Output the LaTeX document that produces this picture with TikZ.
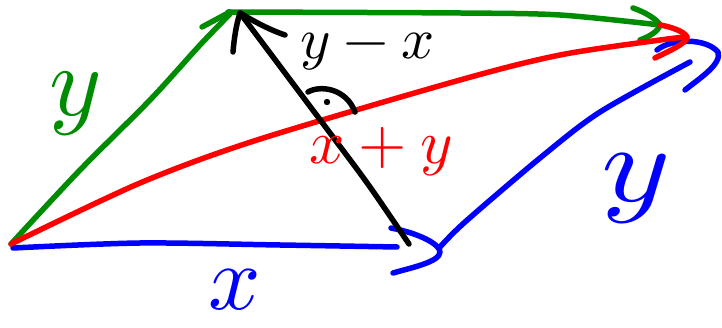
\documentclass[tikz,border=0pt]{standalone}
\usepackage{fontspec}
\usepackage{unicode-math}
\definecolor{pgreen}{RGB}{0,140,0}
\definecolor{pred}{RGB}{255,0,0}
\definecolor{pblue}{RGB}{0,0,255}
\tikzset{
  pen/.style={line width=5.5pt, line cap=round, line join=round},
  lbl/.style={inner sep=0pt, font=\fontsize{#1}{#1}\selectfont},
}
\begin{document}
\begin{tikzpicture}[x=1pt,y=-1pt]
\useasboundingbox (0,0) rectangle (722,328);
% key points
\coordinate (O) at (11,244);
\coordinate (Gtop) at (230,14);
\coordinate (Gtip) at (660,25);
\coordinate (Rtip) at (687,37);
\coordinate (Bend) at (397,247);
\coordinate (Btip) at (440,252);
\coordinate (Dstart) at (440,247);
\coordinate (Dend) at (690,62);
\coordinate (Dtip) at (718,52);
\coordinate (Kstart) at (409,244);
\coordinate (Ktip) at (240,13);
% blue x
\draw[pen, pblue] plot[smooth] coordinates {(13,248) (140,243) (280,245) (Bend)};
\draw[pen, pblue] (391,228) .. controls (418,233) and (440,244) .. (Btip) .. controls (440,262) and (410,268) .. (393,273);
% blue y (diagonal)
\draw[pen, pblue] plot[smooth] coordinates {(Dstart) (465,222) (540,158) (600,112) (Dend)};
\draw[pen, pblue] (657,50) .. controls (672,38) and (706,38) .. (Dtip) .. controls (722,64) and (700,78) .. (685,90);
% green y (left)
\draw[pen, pgreen] plot[smooth] coordinates {(O) (80,170) (150,100) (200,45) (Gtop)};
\draw[pen, pgreen] (202,27) -- (230,12);
% green top
\draw[pen, pgreen] plot[smooth] coordinates {(228,12) (460,13) (560,15) (Gtip)};
\draw[pen, pgreen] (633,8) .. controls (645,12) and (658,20) .. (Gtip) .. controls (658,32) and (648,37) .. (640,40);
% red x+y
\draw[pen, pred] plot[smooth] coordinates {(O) (140,183) (257,140) (460,80) (560,55) (660,40) (Rtip)};
\draw[pen, pred] (660,25) .. controls (672,27) and (685,32) .. (Rtip) .. controls (688,43) and (665,53) .. (655,58);
% black y-x
\draw[pen, black] plot[smooth] coordinates {(Kstart) (370,187) (333,137) (Ktip)};
\draw[pen, black] (Ktip) .. controls (236,25) and (234,40) .. (233,52);
\draw[pen, black] (Ktip) .. controls (255,22) and (270,30) .. (285,35);
% right angle mark
\draw[pen, black] (308,92) .. controls (320,85) and (346,88) .. (355,112);
\fill[black] (327,102) circle (3.2);
% labels
\node[lbl=100, text=pgreen] (ly1) at (75,104) {$y$};
\node[lbl=92, text=pblue] (lx) at (235,290) {$x$};
\node[lbl=110, text=pblue, xscale=1.2] (ly2) at (636,188) {$y$};
\node[lbl=62, text=pred] (lsum) at (381,152) {$x+y$};
\node[lbl=58, text=black] (ldiff) at (368,52) {$y-x$};
\end{tikzpicture}
\end{document}
